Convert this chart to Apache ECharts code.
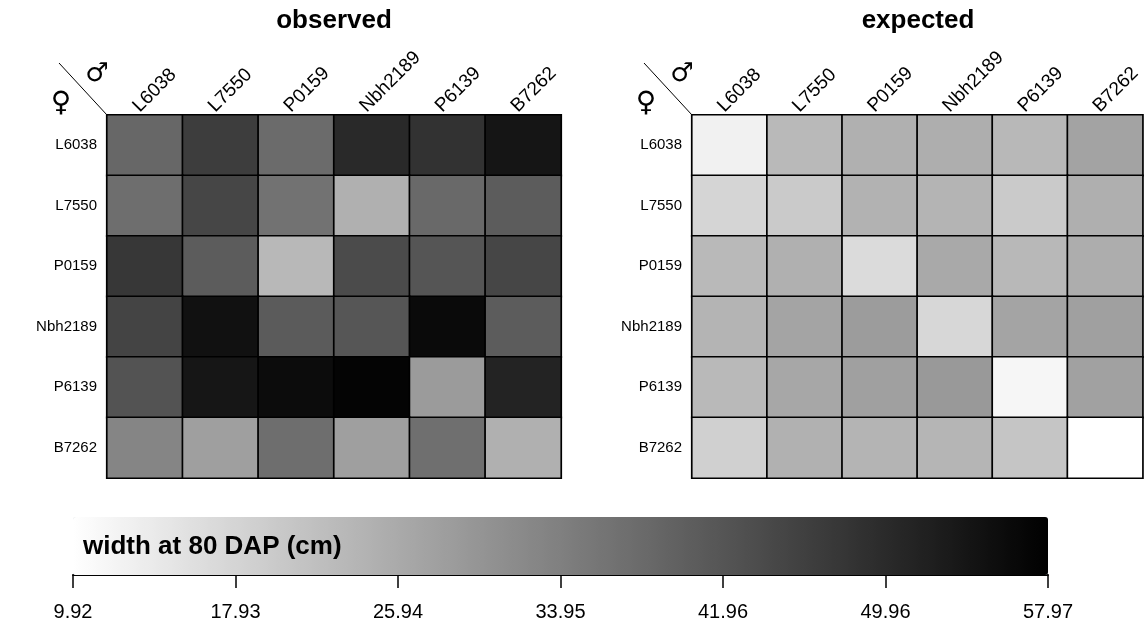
<!DOCTYPE html>
<html><head><meta charset="utf-8">
<script src="https://cdn.jsdelivr.net/npm/echarts@6/dist/echarts.min.js"></script>
<style>html,body{margin:0;padding:0;background:#fff}#c{width:1146px;height:627px}</style>
</head><body><div id="c"></div>
<script>
// male (columns) and female (rows) lines
const maleLines = ['L6038', 'L7550', 'P0159', 'Nbh2189', 'P6139', 'B7262'];
const femaleLines = ['L6038', 'L7550', 'P0159', 'Nbh2189', 'P6139', 'B7262'];

// width at 80 DAP (cm), rows = female, columns = male
const observedL6038 = [38.56, 46.48, 37.81, 50.24, 48.55, 54.01];
const observedL7550 = [37.24, 44.78, 36.49, 24.81, 38.18, 40.63];
const observedP0159 = [47.61, 40.63, 23.30, 43.84, 41.95, 44.78];
const observedNbh2189 = [45.16, 54.77, 40.82, 41.76, 56.09, 40.63];
const observedP6139 = [42.33, 53.82, 55.71, 57.22, 28.76, 51.37];
const observedB7262 = [32.91, 28.01, 37.24, 28.01, 37.05, 24.81];

const expectedL6038 = [12.56, 23.11, 24.81, 25.18, 23.30, 27.26];
const expectedL7550 = [17.83, 19.91, 24.43, 24.05, 19.91, 24.99];
const expectedP0159 = [23.11, 24.81, 16.70, 26.13, 23.30, 25.37];
const expectedNbh2189 = [24.05, 27.07, 28.57, 17.46, 27.07, 27.82];
const expectedP6139 = [23.11, 26.50, 27.82, 29.14, 11.62, 27.63];
const expectedB7262 = [18.78, 24.62, 24.05, 23.86, 20.85, 9.92];

const scaleMin = 9.92;
const scaleMax = 57.97;
const tickLabels = ['9.92', '17.93', '25.94', '33.95', '41.96', '49.96', '57.97'];

const observedRows = [observedL6038, observedL7550, observedP0159, observedNbh2189, observedP6139, observedB7262];
const expectedRows = [expectedL6038, expectedL7550, expectedP0159, expectedNbh2189, expectedP6139, expectedB7262];

function toCells(rows) {
  const out = [];
  rows.forEach((row, r) => row.forEach((v, c) => out.push([c, r, v])));
  return out;
}

const FONT = 'Liberation Sans';
const G = [
  { left: 107, top: 115, width: 454, height: 363 },
  { left: 692, top: 115, width: 452, height: 363 }
];

function catX(i) {
  return {
    type: 'category', gridIndex: i, position: 'top', data: maleLines,
    axisLine: { show: false }, axisTick: { show: false }, splitLine: { show: false },
    axisLabel: { rotate: -45, interval: 0, margin: -3, verticalAlign: 'bottom', lineHeight: 25,
      fontSize: 19, color: '#000', fontFamily: FONT }
  };
}
function catY(i) {
  return {
    type: 'category', gridIndex: i, inverse: true, data: femaleLines,
    axisLine: { show: false }, axisTick: { show: false }, splitLine: { show: false },
    axisLabel: { interval: 0, margin: 10, fontSize: 15, color: '#000', fontFamily: FONT }
  };
}
function heat(i, rows) {
  return {
    type: 'heatmap', xAxisIndex: i, yAxisIndex: i, data: toCells(rows),
    itemStyle: { borderColor: '#000', borderWidth: 1.7 },
    emphasis: { disabled: true }, label: { show: false }
  };
}
function corner(g) {
  const x = g.left, y = g.top;
  return [
    { type: 'line', shape: { x1: x - 48, y1: y - 52, x2: x, y2: y }, style: { stroke: '#000', lineWidth: 1 } },
    { type: 'text', x: x - 10, y: y - 41, style: { text: '\u2642', font: '26px "DejaVu Sans"', fill: '#000', textAlign: 'center', textVerticalAlign: 'middle' } },
    { type: 'text', x: x - 46, y: y - 11, style: { text: '\u2640', font: '28px "DejaVu Sans"', fill: '#000', textAlign: 'center', textVerticalAlign: 'middle' } }
  ];
}

const chart = echarts.init(document.getElementById('c'), null, { renderer: 'canvas' });
chart.setOption({
  animation: false,
  backgroundColor: '#fff',
  grid: [G[0], G[1], { left: 73, top: 574, width: 975, height: 1 }],
  xAxis: [catX(0), catX(1), {
    type: 'value', gridIndex: 2, position: 'bottom', min: 0, max: 6, interval: 1,
    axisLine: { show: true, lineStyle: { color: '#000', width: 2 } },
    axisTick: { show: true, length: 13, lineStyle: { color: '#000', width: 1.5 } },
    splitLine: { show: false },
    axisLabel: { margin: 27, fontSize: 20, color: '#000', fontFamily: FONT,
      formatter: v => tickLabels[v] ?? '' }
  }],
  yAxis: [catY(0), catY(1), { type: 'value', gridIndex: 2, show: false }],
  visualMap: {
    type: 'continuous', seriesIndex: [0, 1], min: scaleMin, max: scaleMax,
    orient: 'horizontal', left: 73, top: 517, itemWidth: 58, itemHeight: 975,
    padding: 0, calculable: false, hoverLink: false, text: null,
    inRange: { color: ['#ffffff', '#000000'] }
  },
  series: [heat(0, observedRows), heat(1, expectedRows)],
  graphic: [
    { type: 'text', x: G[0].left + G[0].width / 2, y: 21, style: { text: 'observed', font: 'bold 26px "Liberation Sans"', fill: '#000', textAlign: 'center', textVerticalAlign: 'middle' } },
    { type: 'text', x: G[1].left + G[1].width / 2, y: 21, style: { text: 'expected', font: 'bold 26px "Liberation Sans"', fill: '#000', textAlign: 'center', textVerticalAlign: 'middle' } },
    { type: 'text', x: 83, y: 547, z: 100, style: { text: 'width at 80 DAP (cm)', font: 'bold 26px "Liberation Sans"', fill: '#000', textAlign: 'left', textVerticalAlign: 'middle' } },
    ...corner(G[0]), ...corner(G[1])
  ]
});
</script></body></html>
